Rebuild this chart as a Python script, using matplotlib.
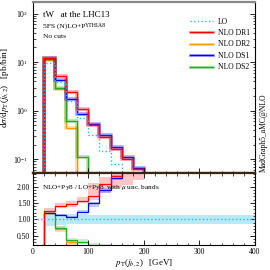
import numpy as np
import matplotlib
matplotlib.use("Agg")
import matplotlib.pyplot as plt
from matplotlib.lines import Line2D

plt.rcParams['font.family'] = ['Liberation Serif', 'DejaVu Serif']
plt.rcParams['mathtext.fontset'] = 'stix'

# ---------------- data ----------------
edges_nlo = [20, 40, 60, 80, 100, 120, 140, 160, 180, 200]
lo_vals = [9.6, 3.85, 1.62, 0.70, 0.32, 0.15, 0.079]
dr1_vals = [12.4, 5.25, 2.39, 1.07, 0.51, 0.29, 0.16, 0.10, 0.062]
dr2_vals = [11.2, 2.75, 0.45]
ds1_vals = [12.0, 4.3, 1.72, 0.855, 0.53, 0.316, 0.175, 0.11, 0.067]
ds2_vals = [11.5, 2.95, 0.62, 0.11]

# ratio panel
r_dr1 = [1.25, 1.40, 1.46, 1.56, 1.72, 2.07, 2.32, 2.6]
r_dr1_lo = [1.18, 1.34, 1.39, 1.49, 1.59, 1.80, 1.95, 2.05, 2.20]
r_dr1_hi = [1.34, 1.49, 1.56, 1.69, 2.10, 2.31, 2.50, 2.50, 2.50]
r_ds1 = [1.20, 1.12, 1.08, 1.23, 1.49, 1.89, 2.27, 2.6]
r_ds1_lo = [1.15, 1.09, 1.05, 1.19, 1.39, 1.80, 2.20]
r_ds1_hi = [1.25, 1.15, 1.11, 1.27, 1.54, 1.95, 2.35]
r_dr2 = [1.18, 0.70, 0.29, 0.0]
r_dr2_lo = [1.14, 0.62, 0.22]
r_dr2_hi = [1.23, 0.79, 0.35]
r_ds2 = [1.20, 0.73, 0.36, 0.30, 0.0]
r_ds2_lo = [1.16, 0.68, 0.31, 0.24, 0.21, 0.20]
r_ds2_hi = [1.24, 0.78, 0.42, 0.40, 0.28, 0.24]
lo_band_half = [0.20, 0.17, 0.15, 0.15, 0.14, 0.14, 0.14, 0.14, 0.14, 0.14,
                0.14, 0.14, 0.14, 0.14, 0.14, 0.14, 0.14, 0.14, 0.14]

xticks = [0, 100, 200, 300, 400]
legend_labels = ['LO', 'NLO DR1', 'NLO DR2', 'NLO DS1', 'NLO DS2']

c_lo = '#22bbee'
c_dr1 = '#ff0000'
c_dr2 = '#ff9900'
c_ds1 = '#0000ff'
c_ds2 = '#22aa22'

fig = plt.figure(figsize=(2.7, 2.7), dpi=100)
L, R = 0.1215, 0.944
ax = fig.add_axes([L, 0.358, R - L, 0.993 - 0.358])
axr = fig.add_axes([L, 0.0926, R - L, 0.358 - 0.0926])

FS = 5.5

def edges_for(v):
    return edges_nlo[:len(v) + 1]

# ---------------- main panel ----------------
ax.set_yscale('log')
ax.set_xlim(0, 400)
ax.set_ylim(10 ** -1.29, 10 ** 2.24)

for vals, col in [(dr2_vals, c_dr2), (ds2_vals, c_ds2), (ds1_vals, c_ds1), (dr1_vals, c_dr1)]:
    ax.stairs(vals, edges_for(vals), baseline=1e-4, color=col, lw=2.6, alpha=0.35)
    ax.stairs(vals, edges_for(vals), baseline=1e-4, color=col, lw=0.9)
ax.stairs(lo_vals, edges_for(lo_vals), baseline=1e-4, color=c_lo, lw=1.0, ls=':')

ax.tick_params(which='both', direction='in', top=False, right=True,
               labelbottom=False, labelsize=FS)
ax.tick_params(which='major', length=3.5, width=0.6)
ax.tick_params(which='minor', length=1.8, width=0.5)
ax.set_xticks(xticks)
ax.xaxis.set_minor_locator(matplotlib.ticker.MultipleLocator(20))
for s in ['left', 'right']:
    ax.spines[s].set_linewidth(0.8)
ax.spines['top'].set_color('#888888')
ax.spines['top'].set_linewidth(1.6)
ax.spines['bottom'].set_color('#3a2610')
ax.spines['bottom'].set_linewidth(1.6)

ax.set_ylabel(r'd$\sigma$/d$p_{\rm T}$($j_{b,2}$)   [pb/bin]', fontsize=6.6, labelpad=1)

ax.text(0.045, 0.925, 'tW   at the LHC13', transform=ax.transAxes, fontsize=6.5, va='center')
t1 = ax.text(0.045, 0.86, '5FS (N)LO+P', transform=ax.transAxes, fontsize=5.4, va='center')
ax.annotate('YTHIA8', xy=(1, 0.2), xycoords=t1, fontsize=4.2, va='bottom', ha='left')
ax.text(0.045, 0.797, 'No cuts', transform=ax.transAxes, fontsize=5.4, va='center')

handles = [Line2D([], [], color=c_lo, lw=1.0, ls=':')]
for col in [c_dr1, c_dr2, c_ds1, c_ds2]:
    handles.append((Line2D([], [], color=col, lw=2.2, alpha=0.35),
                    Line2D([], [], color=col, lw=0.9)))
ax.legend(handles, legend_labels, loc='upper right', frameon=False, fontsize=FS,
          handlelength=3.0, handletextpad=0.6, labelspacing=0.45,
          bbox_to_anchor=(1.0, 0.94), borderaxespad=0.3)

fig.text(0.976, 0.51, 'MadGraph5_aMC@NLO', rotation=90, fontsize=FS, va='center', ha='center')

# ---------------- ratio panel ----------------
axr.set_xlim(0, 400)
axr.set_ylim(0.21, 2.41)
edges_lo_band = list(range(20, 420, 20))
lo_band_lo = [1 - h for h in lo_band_half]
lo_band_hi = [1 + h for h in lo_band_half]
axr.stairs(lo_band_hi, edges_lo_band, baseline=lo_band_lo, fill=True,
           color='#8fdcf2', alpha=0.6, lw=0)
axr.stairs(r_dr1_hi, edges_for(r_dr1_hi), baseline=r_dr1_lo, fill=True, color='#ff8080', alpha=0.45, lw=0)
axr.stairs(r_ds1_hi, edges_for(r_ds1_hi), baseline=r_ds1_lo, fill=True, color='#8080ff', alpha=0.45, lw=0)
axr.stairs(r_dr2_hi, edges_for(r_dr2_hi), baseline=r_dr2_lo, fill=True, color='#ffc070', alpha=0.5, lw=0)
axr.stairs(r_ds2_hi, edges_for(r_ds2_hi), baseline=r_ds2_lo, fill=True, color='#90d890', alpha=0.45, lw=0)

axr.axhline(1.0, color=c_lo, lw=1.0, ls=':')
for vals, col in [(r_dr2, c_dr2), (r_ds2, c_ds2), (r_ds1, c_ds1), (r_dr1, c_dr1)]:
    # leading empty bin (0-20) so the left edge rises from below the axis;
    # no closing edge on the right
    axr.stairs([0.0] + vals, [0] + edges_for(vals), baseline=None, color=col, lw=0.9)

axr.set_xticks(xticks)
axr.set_yticks([0.5, 1.0, 1.5, 2.0])
axr.yaxis.set_major_formatter(matplotlib.ticker.FormatStrFormatter('%.2f'))
axr.xaxis.set_minor_locator(matplotlib.ticker.MultipleLocator(20))
axr.yaxis.set_minor_locator(matplotlib.ticker.MultipleLocator(0.1))
axr.tick_params(which='both', direction='in', top=True, right=True, labelsize=FS, pad=2)
axr.tick_params(which='major', length=3.5, width=0.6)
axr.tick_params(which='minor', length=1.8, width=0.5)
for s in ['left', 'right', 'bottom']:
    axr.spines[s].set_linewidth(0.8)
axr.spines['top'].set_color('#3a2610')
axr.spines['top'].set_linewidth(1.6)

axr.text(0.04, 0.80, r'NLO+Py8 / LO+Py8  with $\mu$ unc. bands', transform=axr.transAxes,
         fontsize=5.2, va='center')
axr.set_xlabel(r'$p_{\rm T}$($j_{b,2}$)   [GeV]', fontsize=6.5, labelpad=1)

fig.savefig('out.png', dpi=100)
